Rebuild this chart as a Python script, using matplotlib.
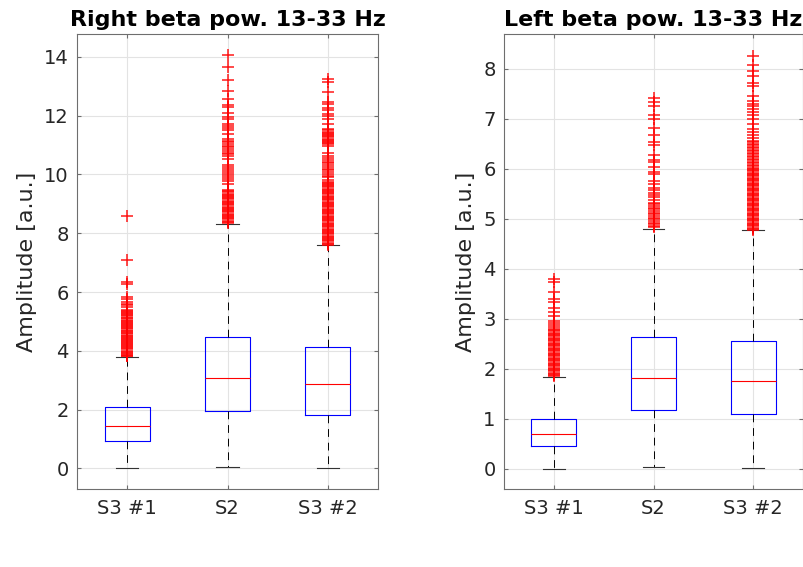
import matplotlib.pyplot as plt

plt.rcParams["font.family"] = ["DejaVu Sans"]

CONDITIONS = ["S3 #1", "S2", "S3 #2"]

# box statistics per condition: [S3 #1, S2, S3 #2]
right_q1 = [0.93, 1.95, 1.81]
right_med = [1.45, 3.08, 2.87]
right_q3 = [2.08, 4.48, 4.12]
right_lo = [0.00, 0.06, 0.00]
right_hi = [3.80, 8.30, 7.60]

left_q1 = [0.45, 1.18, 1.10]
left_med = [0.69, 1.82, 1.75]
left_q3 = [1.00, 2.63, 2.56]
left_lo = [0.00, 0.03, 0.01]
left_hi = [1.84, 4.80, 4.77]

# outliers above the upper whisker
right_out_s3a = [
    8.60, 7.08, 6.35, 6.27, 5.84, 5.76, 5.67, 5.60, 5.56, 5.48,
    5.40, 5.37, 5.33, 5.29, 5.25, 5.21, 5.17, 5.13, 5.10, 5.06,
    5.02, 4.98, 4.95, 4.91, 4.87, 4.84, 4.80, 4.77, 4.73, 4.69,
    4.66, 4.62, 4.59, 4.55, 4.51, 4.48, 4.44, 4.41, 4.37, 4.33,
    4.30, 4.26, 4.23, 4.19, 4.15, 4.12, 4.08, 4.05, 4.01, 3.97,
    3.94, 3.90, 3.87, 3.83, 3.81,
]
right_out_s2 = [
    14.05, 13.64, 13.22, 12.85, 12.58, 12.38, 12.30, 12.08, 11.95, 11.88,
    11.72, 11.65, 11.58, 11.50, 11.38, 11.20, 11.15, 11.10, 11.04, 10.98,
    10.92, 10.86, 10.80, 10.74, 10.68, 10.62, 10.52, 10.32, 10.26, 10.20,
    10.12, 10.05, 9.98, 9.90, 9.84, 9.77, 9.66, 9.47, 9.43, 9.39,
    9.35, 9.31, 9.27, 9.23, 9.19, 9.15, 9.11, 9.07, 9.03, 8.99,
    8.95, 8.91, 8.87, 8.83, 8.79, 8.75, 8.71, 8.67, 8.63, 8.59,
    8.55, 8.51, 8.47, 8.43, 8.39, 8.35,
]
right_out_s3b = [
    13.26, 13.13, 12.80, 12.48, 12.40, 12.27, 12.19, 12.06, 11.98, 11.87,
    11.72, 11.54, 11.50, 11.46, 11.42, 11.38, 11.34, 11.30, 11.26, 11.22,
    11.18, 11.14, 11.10, 11.06, 11.02, 10.98, 10.72, 10.62, 10.56, 10.50,
    10.44, 10.38, 10.32, 10.26, 10.20, 10.14, 10.08, 10.02, 9.96, 9.90,
    9.80, 9.76, 9.72, 9.68, 9.64, 9.60, 9.56, 9.52, 9.48, 9.44,
    9.40, 9.36, 9.32, 9.28, 9.24, 9.20, 9.16, 9.12, 9.08, 9.04,
    9.00, 8.96, 8.92, 8.88, 8.84, 8.80, 8.76, 8.72, 8.68, 8.64,
    8.60, 8.56, 8.52, 8.48, 8.44, 8.40, 8.36, 8.32, 8.28, 8.24,
    8.20, 8.16, 8.12, 8.08, 8.04, 8.00, 7.96, 7.92, 7.88, 7.84,
    7.80, 7.76, 7.72, 7.68, 7.64, 7.61,
]

left_out_s3a = [
    3.80, 3.74, 3.53, 3.40, 3.34, 3.22, 3.13, 3.05, 2.96, 2.92,
    2.87, 2.83, 2.80, 2.77, 2.75, 2.72, 2.70, 2.67, 2.65, 2.62,
    2.60, 2.57, 2.55, 2.52, 2.50, 2.47, 2.45, 2.42, 2.40, 2.37,
    2.35, 2.32, 2.30, 2.27, 2.25, 2.22, 2.20, 2.17, 2.15, 2.12,
    2.10, 2.07, 2.05, 2.02, 2.00, 1.97, 1.95, 1.92, 1.90, 1.87,
    1.85,
]
left_out_s2 = [
    7.42, 7.34, 7.26, 7.08, 7.00, 6.82, 6.67, 6.53, 6.47, 6.28,
    6.18, 6.13, 6.03, 5.94, 5.89, 5.75, 5.69, 5.61, 5.57, 5.51,
    5.47, 5.43, 5.38, 5.32, 5.29, 5.26, 5.22, 5.19, 5.16, 5.12,
    5.09, 5.06, 5.02, 4.99, 4.96, 4.92, 4.89, 4.86, 4.83,
]
left_out_s3b = [
    8.26, 8.08, 7.95, 7.86, 7.72, 7.66, 7.45, 7.35, 7.30, 7.25,
    7.20, 7.14, 7.08, 7.00, 6.90, 6.80, 6.74, 6.68, 6.62, 6.56,
    6.53, 6.50, 6.47, 6.44, 6.41, 6.38, 6.35, 6.32, 6.29, 6.26,
    6.23, 6.20, 6.17, 6.14, 6.11, 6.08, 6.05, 6.02, 6.00, 5.97,
    5.95, 5.92, 5.90, 5.87, 5.85, 5.82, 5.80, 5.77, 5.75, 5.72,
    5.70, 5.67, 5.65, 5.62, 5.60, 5.57, 5.55, 5.52, 5.50, 5.47,
    5.45, 5.42, 5.40, 5.37, 5.35, 5.32, 5.30, 5.27, 5.25, 5.22,
    5.20, 5.17, 5.15, 5.12, 5.10, 5.07, 5.05, 5.02, 5.00, 4.97,
    4.95, 4.92, 4.90, 4.87, 4.85, 4.82, 4.80, 4.78,
]

TEXT_COLOR = "#262626"
AXIS_COLOR = "#6e6e6e"
GRID_COLOR = "#e3e3e3"


def make_stats(q1, med, q3, lo, hi, outliers):
    stats = []
    for i in range(len(CONDITIONS)):
        stats.append({
            "q1": q1[i], "med": med[i], "q3": q3[i],
            "whislo": lo[i], "whishi": hi[i],
            "fliers": outliers[i], "label": CONDITIONS[i],
        })
    return stats


def draw_panel(ax, stats, title, ylim, yticks):
    ax.bxp(
        stats,
        positions=[1, 2, 3],
        widths=0.45,
        capwidths=0.22,
        boxprops=dict(color="blue", linewidth=0.8),
        medianprops=dict(color="red", linewidth=0.8),
        whiskerprops=dict(color="black", linewidth=0.7, linestyle=(0, (8, 6))),
        capprops=dict(color="#333333", linewidth=0.8),
        flierprops=dict(marker="+", markersize=8, markeredgewidth=1.1,
                        markeredgecolor="red", alpha=0.9),
    )
    ax.set_xlim(0.5, 3.5)
    ax.set_ylim(*ylim)
    ax.set_yticks(yticks)
    ax.set_xticks([1, 2, 3])
    ax.set_xticklabels(CONDITIONS)
    ax.set_title(title, fontsize=16, fontweight="bold", pad=6)
    ax.set_ylabel("Amplitude [a.u.]", fontsize=16, color=TEXT_COLOR, labelpad=5)
    ax.grid(True, color=GRID_COLOR, linewidth=0.8)
    ax.set_axisbelow(True)
    ax.tick_params(direction="in", length=3, width=0.8, color=AXIS_COLOR,
                   labelcolor=TEXT_COLOR, labelsize=14,
                   top=True, right=True)
    ax.tick_params(axis="x", pad=7)
    ax.tick_params(axis="y", pad=6)
    for spine in ax.spines.values():
        spine.set_color(AXIS_COLOR)
        spine.set_linewidth(0.8)


fig = plt.figure(figsize=(8.04, 5.67), dpi=100)
ax_right = fig.add_axes([0.0958, 0.1376, 0.3744, 0.8025])
ax_left = fig.add_axes([0.6269, 0.1376, 0.3719, 0.8025])

right_stats = make_stats(right_q1, right_med, right_q3, right_lo, right_hi,
                         [right_out_s3a, right_out_s2, right_out_s3b])
left_stats = make_stats(left_q1, left_med, left_q3, left_lo, left_hi,
                        [left_out_s3a, left_out_s2, left_out_s3b])

draw_panel(ax_right, right_stats, "Right beta pow. 13-33 Hz",
           (-0.70, 14.78), [0, 2, 4, 6, 8, 10, 12, 14])
draw_panel(ax_left, left_stats, "Left beta pow. 13-33 Hz",
           (-0.41, 8.70), [0, 1, 2, 3, 4, 5, 6, 7, 8])

fig.savefig("out.png", dpi=100)
